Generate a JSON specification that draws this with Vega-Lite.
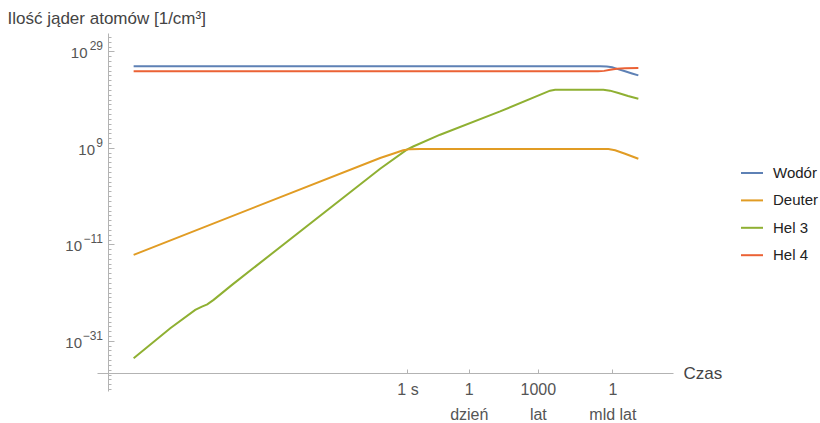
{
  "$schema": "https://vega.github.io/schema/vega-lite/v6.json",
  "width": 576,
  "height": 358,
  "autosize": {"type": "none"},
  "padding": {"left": 97, "top": 33, "right": 147, "bottom": 32},
  "background": "white",
  "config": {"view": {"stroke": null}, "font": "Liberation Sans"},
  "datasets": {
    "curves": [
      {"s": "Wodór", "t": 8.91e-23, "n": 7.76e25},
      {"s": "Wodór", "t": 3.24e15, "n": 7.76e25},
      {"s": "Wodór", "t": 1.12e16, "n": 7.08e25},
      {"s": "Wodór", "t": 3.02e16, "n": 5.01e25},
      {"s": "Wodór", "t": 7.59e16, "n": 2.34e25},
      {"s": "Wodór", "t": 3.31e17, "n": 7.41e24},
      {"s": "Wodór", "t": 1.2e18, "n": 2.57e24},
      {"s": "Wodór", "t": 3.89e18, "n": 1.05e24},
      {"s": "Hel 4", "t": 8.91e-23, "n": 7.08e24},
      {"s": "Hel 4", "t": 2.24e15, "n": 7.08e24},
      {"s": "Hel 4", "t": 6.76e15, "n": 8.91e24},
      {"s": "Hel 4", "t": 2.09e16, "n": 1.45e25},
      {"s": "Hel 4", "t": 7.08e16, "n": 2.57e25},
      {"s": "Hel 4", "t": 3.31e17, "n": 3.24e25},
      {"s": "Hel 4", "t": 3.89e18, "n": 3.63e25},
      {"s": "Hel 3", "t": 8.91e-23, "n": 2.45e-35},
      {"s": "Hel 3", "t": 7.94e-20, "n": 4.07e-29},
      {"s": "Hel 3", "t": 8.13e-18, "n": 2.57e-25},
      {"s": "Hel 3", "t": 2.82e-17, "n": 1.26e-24},
      {"s": "Hel 3", "t": 7.59e-17, "n": 3.55e-24},
      {"s": "Hel 3", "t": 2.45e-16, "n": 3.09e-23},
      {"s": "Hel 3", "t": 7.41e-15, "n": 3.98e-20},
      {"s": "Hel 3", "t": 6.31e-3, "n": 4.57e4},
      {"s": "Hel 3", "t": 0.891, "n": 4.07e8},
      {"s": "Hel 3", "t": 2.88, "n": 1.86e9},
      {"s": "Hel 3", "t": 427, "n": 5.25e11},
      {"s": "Hel 3", "t": 2.88e7, "n": 3.55e16},
      {"s": "Hel 3", "t": 3.02e11, "n": 7.08e20},
      {"s": "Hel 3", "t": 7.76e11, "n": 1.1e21},
      {"s": "Hel 3", "t": 1.95e12, "n": 1.13e21},
      {"s": "Hel 3", "t": 5.89e15, "n": 1.12e21},
      {"s": "Hel 3", "t": 2.04e16, "n": 7.08e20},
      {"s": "Hel 3", "t": 9.55e16, "n": 2.34e20},
      {"s": "Hel 3", "t": 5.75e17, "n": 5.62e19},
      {"s": "Hel 3", "t": 3.89e18, "n": 1.55e19},
      {"s": "Deuter", "t": 8.91e-23, "n": 6.61e-14},
      {"s": "Deuter", "t": 6.31e-3, "n": 7.94e6},
      {"s": "Deuter", "t": 0.102, "n": 8.32e7},
      {"s": "Deuter", "t": 0.447, "n": 3.16e8},
      {"s": "Deuter", "t": 1.66, "n": 5.37e8},
      {"s": "Deuter", "t": 10.5, "n": 5.62e8},
      {"s": "Deuter", "t": 1.51e16, "n": 5.62e8},
      {"s": "Deuter", "t": 5.25e16, "n": 3.16e8},
      {"s": "Deuter", "t": 3.31e17, "n": 6.03e7},
      {"s": "Deuter", "t": 3.89e18, "n": 5.5e6}
    ],
    "exps": [
      {"n": 1e29, "e": "29"},
      {"n": 1e9, "e": "9"},
      {"n": 1e-11, "e": "−11"},
      {"n": 1e-31, "e": "−31"}
    ]
  },
  "encoding": {
    "y": {
      "field": "n",
      "type": "quantitative",
      "scale": {"type": "log", "domain": [3.98e-42, 6.31e32], "nice": false},
      "axis": {
        "values": [1e-41, 1e-40, 1e-39, 1e-38, 1e-37, 1e-36, 1e-35, 1e-34, 1e-33, 1e-32, 1e-31, 1e-30, 1e-29, 1e-28, 1e-27, 1e-26, 1e-25, 1e-24, 1e-23, 1e-22, 1e-21, 1e-20, 1e-19, 1e-18, 1e-17, 1e-16, 1e-15, 1e-14, 1e-13, 1e-12, 1e-11, 1e-10, 1e-9, 1e-8, 1e-7, 1e-6, 1e-5, 1e-4, 1e-3, 1e-2, 1e-1, 1, 1e1, 1e2, 1e3, 1e4, 1e5, 1e6, 1e7, 1e8, 1e9, 1e10, 1e11, 1e12, 1e13, 1e14, 1e15, 1e16, 1e17, 1e18, 1e19, 1e20, 1e21, 1e22, 1e23, 1e24, 1e25, 1e26, 1e27, 1e28, 1e29, 1e30, 1e31, 1e32],
        "labels": false,
        "offset": -11,
        "grid": false,
        "tickSize": {"condition": {"test": "(datum.value > 1e28 && datum.value < 1e30) || (datum.value > 1e8 && datum.value < 1e10) || (datum.value > 1e-12 && datum.value < 1e-10) || (datum.value > 1e-32 && datum.value < 1e-30)", "value": -6}, "value": -3},
        "domainColor": "#b3b3b3",
        "tickColor": "#b3b3b3",
        "title": "Ilość jąder atomów [1/cm³]",
        "titleAngle": 0,
        "titleX": -101,
        "titleY": -15,
        "titleAlign": "left",
        "titleBaseline": "middle",
        "titleFontSize": 17,
        "titleFontWeight": "normal",
        "titleColor": "#444444"
      }
    }
  },
  "layer": [
    {
      "data": {"name": "curves"},
      "mark": {"type": "line", "strokeWidth": 2, "interpolate": "linear", "clip": false},
      "encoding": {
        "x": {
          "field": "t",
          "type": "quantitative",
          "scale": {"type": "log", "domain": [1e-25, 2.4e21], "nice": false},
          "axis": {
            "values": [1, 86400, 31557600000, 31557600000000000],
            "labelExpr": "datum.value < 10 ? '1 s' : datum.value < 1e6 ? ['1', 'dzień'] : datum.value < 1e12 ? ['1000', 'lat'] : ['1', 'mld lat']",
            "offset": -18,
            "grid": false,
            "tickSize": -4,
            "domainColor": "#b3b3b3",
            "tickColor": "#b3b3b3",
            "labelColor": "#555555",
            "labelFontSize": 16,
            "labelLineHeight": 25,
            "labelPadding": 12,
            "labelBaseline": "top",
            "labelOverlap": false,
            "labelFlush": false,
            "title": "Czas",
            "titleX": 586,
            "titleY": 0,
            "titleAlign": "left",
            "titleBaseline": "middle",
            "titleFontSize": 17,
            "titleFontWeight": "normal",
            "titleColor": "#444444"
          }
        },
        "color": {
          "field": "s",
          "type": "nominal",
          "scale": {"domain": ["Wodór", "Deuter", "Hel 3", "Hel 4"], "range": ["#5E81B5", "#E19C24", "#8FB032", "#EB6235"]},
          "legend": {
            "orient": "none",
            "legendX": 643,
            "legendY": 128,
            "title": null,
            "symbolType": "stroke",
            "symbolSize": 484,
            "symbolStrokeWidth": 2,
            "labelFontSize": 15,
            "labelColor": "#222222",
            "labelOffset": 9,
            "rowPadding": 7.4
          }
        }
      }
    },
    {
      "data": {"name": "exps"},
      "mark": {"type": "text", "align": "right", "baseline": "middle", "dx": 6, "dy": -5, "fontSize": 12, "color": "#555555", "clip": false},
      "encoding": {
        "x": {"datum": 1e-25, "type": "quantitative", "axis": {"title": "Czas"}},
        "text": {"field": "e"}
      }
    },
    {
      "data": {"name": "exps"},
      "transform": [{"filter": "datum.e == '29'"}],
      "mark": {"type": "text", "text": "10", "align": "right", "baseline": "middle", "dx": -9.5, "dy": 2, "fontSize": 15, "color": "#555555", "clip": false},
      "encoding": {
        "x": {"datum": 1e-25, "type": "quantitative", "axis": {"title": "Czas"}}
      }
    },
    {
      "data": {"name": "exps"},
      "transform": [{"filter": "datum.e == '9'"}],
      "mark": {"type": "text", "text": "10", "align": "right", "baseline": "middle", "dx": -2, "dy": 2, "fontSize": 15, "color": "#555555", "clip": false},
      "encoding": {
        "x": {"datum": 1e-25, "type": "quantitative", "axis": {"title": "Czas"}}
      }
    },
    {
      "data": {"name": "exps"},
      "transform": [{"filter": "datum.e == '−11' || datum.e == '−31'"}],
      "mark": {"type": "text", "text": "10", "align": "right", "baseline": "middle", "dx": -15, "dy": 2, "fontSize": 15, "color": "#555555", "clip": false},
      "encoding": {
        "x": {"datum": 1e-25, "type": "quantitative", "axis": {"title": "Czas"}}
      }
    }
  ]
}
